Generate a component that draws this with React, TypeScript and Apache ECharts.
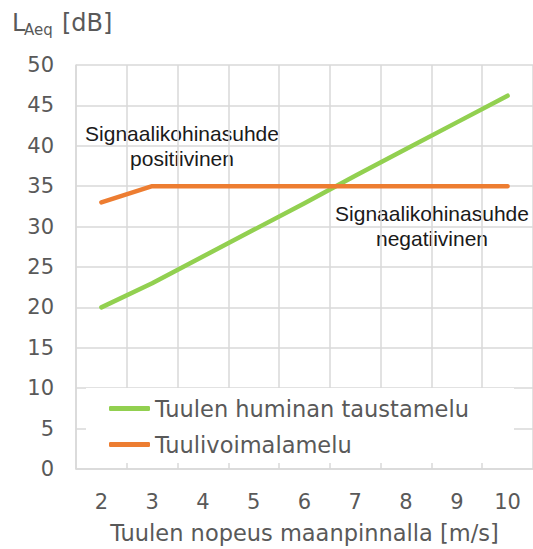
import React, { useEffect, useRef } from "react";
import * as echarts from "echarts";

const categories = ["2", "3", "4", "5", "6", "7", "8", "9", "10"];
const backgroundNoise = [20, 23, 26.3, 29.6, 32.9, 36.3, 39.6, 42.9, 46.2];
const turbineNoise = [33, 35, 35, 35, 35, 35, 35, 35, 35];
const seriesNames = ["Tuulen huminan taustamelu", "Tuulivoimalamelu"];
const xAxisTitle = "Tuulen nopeus maanpinnalla [m/s]";
const positiveLabel = "Signaalikohinasuhde\npositiivinen";
const negativeLabel = "Signaalikohinasuhde\nnegatiivinen";

const AXIS_FONT = "DejaVu Sans";
const GRAY = "#595959";
const GRID = "#d9d9d9";

export default function App() {
  const ref = useRef<HTMLDivElement>(null);
  useEffect(() => {
    if (!ref.current) return;
    const chart = echarts.init(ref.current, undefined, { renderer: "svg" });
    chart.setOption({
      animation: false,
      backgroundColor: "#ffffff",
      grid: { left: 76, top: 65, width: 458.5, height: 404, containLabel: false },
      xAxis: {
        type: "category",
        data: categories,
        boundaryGap: true,
        axisLine: { show: true, lineStyle: { color: GRID, width: 1.5 } },
        axisTick: { show: false },
        splitLine: { show: true, lineStyle: { color: GRID, width: 1.5 } },
        axisLabel: { color: GRAY, fontFamily: AXIS_FONT, fontSize: 21, margin: 22 },
        name: xAxisTitle,
        nameLocation: "middle",
        nameGap: 52,
        nameTextStyle: { color: GRAY, fontFamily: AXIS_FONT, fontSize: 22.5 },
      },
      yAxis: {
        type: "value",
        min: 0,
        max: 50,
        interval: 5,
        axisLine: { show: true, lineStyle: { color: GRID, width: 1.5 } },
        axisTick: { show: false },
        splitLine: { show: true, lineStyle: { color: GRID, width: 1.5 } },
        axisLabel: { color: GRAY, fontFamily: AXIS_FONT, fontSize: 21, margin: 22 },
      },
      legend: {
        orient: "vertical",
        left: 109,
        top: 397,
        padding: 0,
        itemGap: 13,
        itemWidth: 41,
        itemHeight: 5,
        icon: "roundRect",
        z: 10,
        textStyle: { color: GRAY, fontFamily: AXIS_FONT, fontSize: 22.5 },
        data: seriesNames,
      },
      graphic: [
        {
          type: "rect",
          z: 5,
          shape: { x: 86, y: 388, width: 428, height: 75 },
          style: { fill: "#ffffff" },
        },
        {
          type: "text",
          x: 12,
          y: 23,
          style: { text: "L", fill: GRAY, font: `24px '${AXIS_FONT}'`, align: "left", verticalAlign: "middle" },
        },
        {
          type: "text",
          x: 24,
          y: 30,
          style: { text: "Aeq", fill: GRAY, font: `15px '${AXIS_FONT}'`, align: "left", verticalAlign: "middle" },
        },
        {
          type: "text",
          x: 62,
          y: 23,
          style: { text: "[dB]", fill: GRAY, font: `24px '${AXIS_FONT}'`, align: "left", verticalAlign: "middle" },
        },
        {
          type: "text",
          x: 182,
          y: 146,
          style: {
            text: positiveLabel,
            fill: "#1a1a1a",
            font: "21px 'Liberation Sans'",
            lineHeight: 25,
            align: "center",
            verticalAlign: "middle",
          },
        },
        {
          type: "text",
          x: 432,
          y: 226,
          style: {
            text: negativeLabel,
            fill: "#1a1a1a",
            font: "21px 'Liberation Sans'",
            lineHeight: 25,
            align: "center",
            verticalAlign: "middle",
          },
        },
      ],
      series: [
        {
          name: seriesNames[0],
          type: "line",
          data: backgroundNoise,
          symbol: "none",
          color: "#92D050",
          lineStyle: { color: "#92D050", width: 4.5, cap: "round", join: "round" },
          z: 3,
        },
        {
          name: seriesNames[1],
          type: "line",
          data: turbineNoise,
          symbol: "none",
          color: "#ED7D31",
          lineStyle: { color: "#ED7D31", width: 4.5, cap: "round", join: "round" },
          z: 3,
        },
      ],
    });
    return () => chart.dispose();
  }, []);
  return (
    <div
      ref={ref}
      style={{ position: "absolute", left: 0, top: 0, width: 533, height: 549 }}
    />
  );
}
